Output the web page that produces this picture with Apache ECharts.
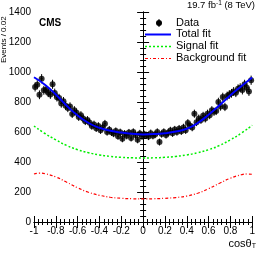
<!DOCTYPE html>
<html><head><meta charset="utf-8">
<script src="https://cdn.jsdelivr.net/npm/echarts@6/dist/echarts.min.js"></script>
<style>html,body{margin:0;padding:0;background:#fff}#c{width:258px;height:254px}</style>
</head><body><div id="c"></div>
<script>
// bin centres of the data histogram (width 0.02)
const binCenters = [-0.99,-0.97,-0.95,-0.93,-0.91,-0.89,-0.87,-0.85,-0.83,-0.81,-0.79,-0.77,-0.75,-0.73,-0.71,-0.69,-0.67,-0.65,-0.63,-0.61,-0.59,-0.57,-0.55,-0.53,-0.51,-0.49,-0.47,-0.45,-0.43,-0.41,-0.39,-0.37,-0.35,-0.33,-0.31,-0.29,-0.27,-0.25,-0.23,-0.21,-0.19,-0.17,-0.15,-0.13,-0.11,-0.09,-0.07,-0.05,-0.03,-0.01,0.01,0.03,0.05,0.07,0.09,0.11,0.13,0.15,0.17,0.19,0.21,0.23,0.25,0.27,0.29,0.31,0.33,0.35,0.37,0.39,0.41,0.43,0.45,0.47,0.49,0.51,0.53,0.55,0.57,0.59,0.61,0.63,0.65,0.67,0.69,0.71,0.73,0.75,0.77,0.79,0.81,0.83,0.85,0.87,0.89,0.91,0.93,0.95,0.97,0.99];
const dataEvents = [900,915,848,955,878,882,862,850,918,860,832,826,790,805,775,760,770,720,745,728,700,712,690,672,680,662,640,650,625,640,612,630,655,600,615,598,590,606,572,598,555,588,575,596,560,600,580,548,590,572,585,578,570,592,575,583,600,533,586,600,580,595,610,592,616,600,622,605,630,612,660,642,630,722,665,690,680,708,690,722,712,745,735,740,800,770,833,767,840,850,858,870,862,888,895,880,918,895,870,945];
// fit curves sampled every 0.1
const fitX = [-1,-0.9,-0.8,-0.7,-0.6,-0.5,-0.4,-0.3,-0.2,-0.1,0,0.1,0.2,0.3,0.4,0.5,0.6,0.7,0.8,0.9,1];
const totalFit = [965,915,850,775,710,660,628,608,596,588,584,586,592,603,622,660,715,778,845,905,963];
const signalFit = [640,590,548,510,482,462,447,437,431,428,427,428,431,437,447,462,482,510,548,592,645];
const bkgX = [-1,-0.95,-0.9,-0.8,-0.7,-0.6,-0.5,-0.4,-0.3,-0.2,-0.1,0,0.1,0.2,0.3,0.4,0.5,0.6,0.7,0.8,0.9,0.95,1];
const bkgFit = [320,326,322,300,265,228,198,178,165,158,155,154,155,158,163,173,192,222,258,292,315,320,318];
const xTicks = {min:-1,max:1,interval:0.2};
const yTicks = {min:0,max:1400,interval:200};

const FONT = 'Liberation Sans, Arial, Helvetica, sans-serif';
const chart = echarts.init(document.getElementById('c'), null, {renderer:'canvas'});
const pts = binCenters.map((x,i)=>[x,dataEvents[i]]);
const pair = (xs,ys)=>xs.map((x,i)=>[x,ys[i]]);

function axisCommon(show){
  return {
    axisLine:{show:true,lineStyle:{color:'#000',width:1}},
    axisTick:{show:true,inside:true,length:6,lineStyle:{color:'#000'}},
    minorTick:{show:true,splitNumber:5,length:3,lineStyle:{color:'#000'}},
    splitLine:{show:false},
    axisLabel:{show:show,color:'#000',fontFamily:FONT,fontSize:10}
  };
}
const grid = {left:34,right:3,top:12,bottom:32};
const option = {
  animation:false,
  grid:grid,
  xAxis:[
    Object.assign({type:'value',min:xTicks.min,max:xTicks.max,interval:xTicks.interval,position:'bottom'},axisCommon(true),
      {axisLabel:{show:true,showMinLabel:true,showMaxLabel:true,hideOverlap:false,color:'#000',fontFamily:FONT,fontSize:10,margin:4,formatter:v=>String(Math.round(v*10)/10)}}),
    Object.assign({type:'value',min:xTicks.min,max:xTicks.max,interval:xTicks.interval,position:'top'},axisCommon(false))
  ],
  yAxis:[
    Object.assign({type:'value',min:yTicks.min,max:yTicks.max,interval:yTicks.interval,position:'left'},axisCommon(true),
      {axisLabel:{show:true,showMinLabel:true,showMaxLabel:true,hideOverlap:false,color:'#000',fontFamily:FONT,fontSize:10,margin:3,formatter:v=>String(v)}}),
    Object.assign({type:'value',min:yTicks.min,max:yTicks.max,interval:yTicks.interval,position:'right'},axisCommon(false))
  ],
  series:[
    {type:'line',data:pair(fitX,signalFit),smooth:true,showSymbol:false,lineStyle:{color:'#00ee00',width:1.5,type:[2,2]},z:2},
    {type:'line',data:pair(bkgX,bkgFit),smooth:true,showSymbol:false,lineStyle:{color:'#ff0000',width:1.2,type:[3,2,1,2]},z:2},
    {type:'custom',data:pts,z:3,renderItem:function(params,api){
      const x=api.value(0), y=api.value(1), e=Math.sqrt(y);
      const a=api.coord([x,y-e]), b=api.coord([x,y+e]);
      const l=api.coord([x-0.01,y]), r=api.coord([x+0.01,y]);
      return {type:'group',children:[
        {type:'line',shape:{x1:a[0],y1:a[1],x2:b[0],y2:b[1]},style:{stroke:'#000',lineWidth:1}},
        {type:'line',shape:{x1:l[0],y1:l[1],x2:r[0],y2:r[1]},style:{stroke:'#000',lineWidth:1}}
      ]};
    }},
    {type:'scatter',data:pts,symbol:'circle',symbolSize:6,itemStyle:{color:'#000'},z:4},
    {type:'line',data:pair(fitX,totalFit),smooth:true,showSymbol:false,lineStyle:{color:'#0000ff',width:2},z:6}
  ],
  graphic:[
    {type:'text',left:39,top:18,style:{text:'CMS',font:'bold 10px '+FONT,fill:'#000'}},
    {type:'text',right:3,top:0,style:{text:'{a|19.7 fb}{s|-1}{a| (8 TeV)}',rich:{a:{font:'9.5px '+FONT,fill:'#000'},s:{font:'6.5px '+FONT,fill:'#000',verticalAlign:'top',padding:[0,0,4,0]}}}},
    // legend
    {type:'line',shape:{x1:159,y1:19,x2:159,y2:27},style:{stroke:'#000',lineWidth:1}},
    {type:'circle',shape:{cx:159,cy:23,r:3},style:{fill:'#000'}},
    {type:'text',left:176,top:17,style:{text:'Data',font:'11px '+FONT,fill:'#000'}},
    {type:'line',shape:{x1:145,y1:34.5,x2:171,y2:34.5},style:{stroke:'#0000ff',lineWidth:2}},
    {type:'text',left:176,top:28.5,style:{text:'Total fit',font:'11px '+FONT,fill:'#000'}},
    {type:'line',shape:{x1:145,y1:46.5,x2:171,y2:46.5},style:{stroke:'#00ee00',lineWidth:1.5,lineDash:[2,2]}},
    {type:'text',left:176,top:40.5,style:{text:'Signal fit',font:'11px '+FONT,fill:'#000'}},
    {type:'line',shape:{x1:145,y1:58.5,x2:171,y2:58.5},style:{stroke:'#ff0000',lineWidth:1.2,lineDash:[3,2,1,2]}},
    {type:'text',left:176,top:52.5,style:{text:'Background fit',font:'11px '+FONT,fill:'#000'}},
    // axis titles
    {type:'text',right:2,top:238,style:{text:'{a|cosθ}{s|T}',rich:{a:{font:'11px '+FONT,fill:'#000'},s:{font:'7px '+FONT,fill:'#000',verticalAlign:'bottom',padding:[6,0,0,0]}}}},
    {type:'text',x:0,y:63,rotation:Math.PI/2,style:{text:'Events / 0.02',font:'8px '+FONT,fill:'#000',align:'left',verticalAlign:'top'}}
  ]
};
chart.setOption(option);
</script></body></html>
